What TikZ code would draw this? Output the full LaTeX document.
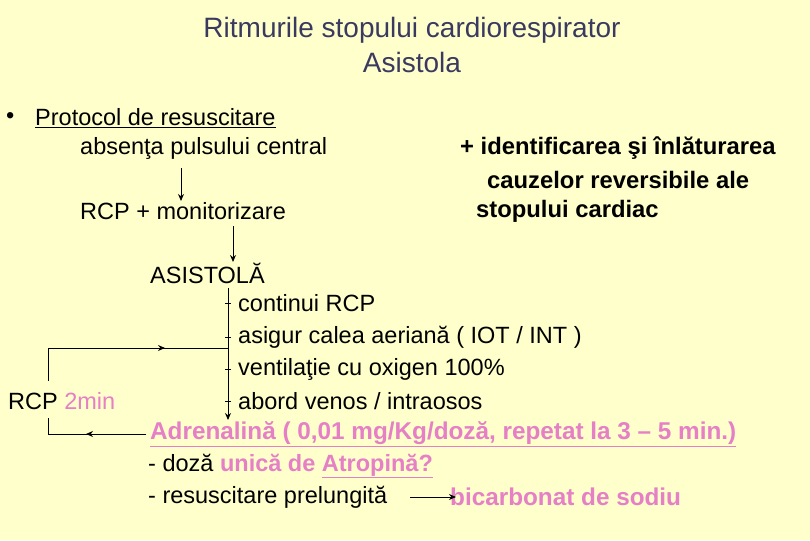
\documentclass[tikz,border=0pt]{standalone}
\usepackage{fontspec}
\setmainfont{Liberation Sans}
\usetikzlibrary{arrows.meta}
\definecolor{bg}{HTML}{FFFFCC}
\definecolor{pk}{HTML}{E57FC6}
\definecolor{tt}{HTML}{3A3A60}
\tikzset{x=1pt,y=-1pt,
 txt/.style={anchor=west,inner sep=0pt,font=\fontsize{23.5}{28}\selectfont},
 bt/.style={txt,font=\fontsize{23.8}{28}\selectfont\bfseries},
 pkt/.style={txt,font=\fontsize{24.3}{28}\selectfont\bfseries,text=pk},
 arr/.style={-{Stealth[length=7pt,width=6pt]},line width=1pt}}
\begin{document}
\begin{tikzpicture}
\fill[bg] (0,0) rectangle (810,540);
\useasboundingbox (0,0) rectangle (810,540);
\node[text=tt,anchor=center,inner sep=0pt,font=\fontsize{28}{32}\selectfont] (t1) at (412,30) {Ritmurile stopului cardiorespirator};
\node[text=tt,anchor=center,inner sep=0pt,font=\fontsize{28}{32}\selectfont] (t2) at (412,62) {Asistola};
\node[txt] (bul) at (6,118) {•};
\node[txt] (prot) at (35,118) {\underline{Protocol de resuscitare}};
\node[txt] (abs) at (80,148) {absenţa pulsului central};
\node[txt] (rcpm) at (80,211) {RCP + monitorizare};
\node[bt] (i1) at (460,148) {+ identificarea şi înlăturarea};
\node[bt] (i2) at (487,180) {cauzelor reversibile ale};
\node[bt] (i3) at (476,211) {stopului cardiac};
\coordinate (a1) at (181,168); \coordinate (a2) at (181,201);
\draw[arr] (a1) -- (a2);
\coordinate (b1) at (233,226); \coordinate (b2) at (233,262);
\draw[arr] (b1) -- (b2);
\node[txt] (asis) at (150,273) {ASISTOLĂ};
\coordinate (v1) at (228,288); \coordinate (v2) at (228,420);
\draw[arr] (v1) -- (v2);
\foreach \y/\t [count=\i] in {303/{continui RCP},337/{asigur calea aeriană ( IOT / INT )},369/{ventilaţie cu oxigen 100\%},401/{abord venos / intraosos}}{
  \draw[line width=0.8pt] (225,\y) -- (231,\y);
  \node[txt] (l\i) at (238,\y) {\t};
}
\node[txt] (rcp2) at (8,401) {RCP \textcolor{pk}{2min}};
\coordinate (c1) at (228,348); \coordinate (c2) at (48,348); \coordinate (c3) at (48,381);
\draw[line width=0.6pt] (c3) -- (c2) -- (c1);
\draw[arr] (86,348) -- (165,348);
\coordinate (d1) at (48,418); \coordinate (d2) at (48,434); \coordinate (d3) at (146,434);
\draw[line width=0.6pt] (d1) -- (d2) -- (d3);
\draw[arr] (146,434) -- (86,434);
\node[pkt] (adr) at (150,434) {\underline{Adrenalină ( 0,01 mg/Kg/doză, repetat la 3 – 5 min.)}};
\node[txt] (doza) at (148,466) {- doză \textcolor{pk}{\bfseries unică de \underline{Atropină?}}};
\node[txt] (res) at (148,497) {- resuscitare prelungită};
\node[pkt] (bic) at (450,497) {bicarbonat de sodiu};
\draw[arr] (410,497) -- ([xshift=6pt]bic.west);
\end{tikzpicture}
\end{document}
